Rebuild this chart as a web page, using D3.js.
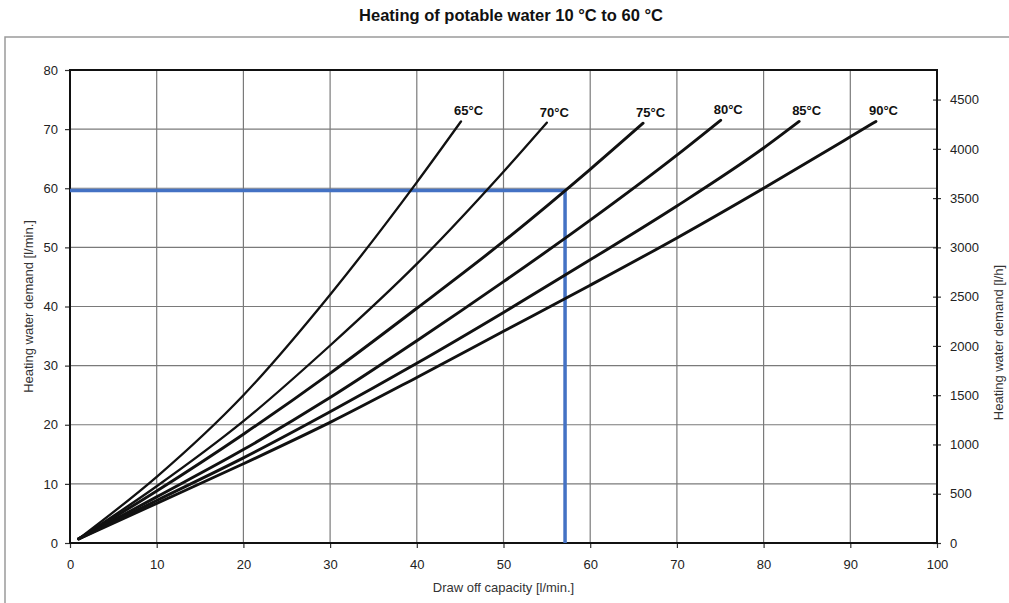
<!DOCTYPE html>
<html>
<head>
<meta charset="utf-8">
<script src="https://cdn.jsdelivr.net/npm/d3@7"></script>
<style>
	body { margin: 0; background: #fff; }
	text { font-family: "Liberation Sans", Arial, sans-serif; }
</style>
</head>
<body>
<script>
// values, [draw off l/min, demand l/min]
const temps = ["65°C", "70°C", "75°C", "80°C", "85°C", "90°C"];
const curve65 = [[1, 0.7], [10, 11.2], [20, 25], [30, 42], [40, 61], [45.1, 71.3]];
const curve70 = [[1, 0.7], [10, 9.6], [20, 20.6], [30, 33.4], [40, 47.2], [50, 62.8], [55, 71.1]];
const curve75 = [[1, 0.7], [10, 8.8], [20, 18.4], [30, 28.7], [40, 39.7], [50, 51], [60, 63.2], [66.1, 71]];
const curve80 = [[1, 0.7], [10, 7.8], [20, 15.8], [30, 24.6], [40, 34.2], [50, 44.2], [60, 54.6], [70, 65.6], [75.05, 71.5]];
const curve85 = [[1, 0.7], [10, 7.2], [20, 14.4], [30, 22.2], [40, 30.4], [50, 39], [60, 47.9], [70, 57], [80, 66.8], [84.1, 71.3]];
const curve90 = [[1, 0.7], [10, 6.7], [20, 13.4], [30, 20.4], [40, 28], [50, 35.8], [60, 43.6], [70, 51.6], [80, 60], [90, 68.7], [92.96, 71.3]];
const curves = [curve65, curve70, curve75, curve80, curve85, curve90];

const xTicks = [0, 10, 20, 30, 40, 50, 60, 70, 80, 90, 100];
const yTicks = [0, 10, 20, 30, 40, 50, 60, 70, 80];
const yRightTicks = [0, 500, 1000, 1500, 2000, 2500, 3000, 3500, 4000, 4500];

// example reading (blue)
const markerDraw = 57.1;
const markerDemand = 59.6;

const width = 1009, height = 603;
const svg = d3.select("body").append("svg")
	.attr("width", width)
	.attr("height", height);

const x = d3.scaleLinear().domain([0, 100]).range([70, 937]);
const y = d3.scaleLinear().domain([0, 80]).range([543, 70]);
const yRight = d3.scaleLinear().domain([0, 4800]).range([543, 70]);

// outer frame
svg.append("rect")
	.attr("x", 5).attr("y", 37)
	.attr("width", 1010).attr("height", 580)
	.attr("fill", "none")
	.attr("stroke", "#9a9a9a")
	.attr("stroke-width", 1.5);

svg.append("text")
	.attr("x", 511).attr("y", 21)
	.attr("text-anchor", "middle")
	.attr("font-size", "16.5px")
	.attr("font-weight", "bold")
	.attr("fill", "#111")
	.text("Heating of potable water 10 °C to 60 °C");

// grid
const grid = svg.append("g").attr("stroke", "#7a7a7a").attr("stroke-width", 1.2);
grid.selectAll("line.v")
	.data(xTicks.slice(1, -1))
	.enter().append("line")
	.attr("x1", d => x(d)).attr("x2", d => x(d))
	.attr("y1", y(0)).attr("y2", y(80));
grid.selectAll("line.h")
	.data(yTicks.slice(1, -1))
	.enter().append("line")
	.attr("x1", x(0)).attr("x2", x(100))
	.attr("y1", d => y(d)).attr("y2", d => y(d));

// axes
const styleAxis = g => {
	g.select(".domain").remove();
	g.selectAll(".tick line").attr("stroke", "#333").attr("stroke-width", 1.2);
	g.selectAll(".tick text").attr("fill", "#222").attr("font-size", "13px")
		.attr("font-family", "Liberation Sans, Arial, sans-serif");
};

svg.append("g")
	.attr("transform", `translate(${x(0)},0)`)
	.call(d3.axisLeft(y).tickValues(yTicks).tickSize(5).tickPadding(7))
	.call(styleAxis);

svg.append("g")
	.attr("transform", `translate(0,${y(0)})`)
	.call(d3.axisBottom(x).tickValues(xTicks).tickSize(5).tickPadding(12))
	.call(styleAxis);

svg.append("g")
	.attr("transform", `translate(${x(100)},0)`)
	.call(d3.axisRight(yRight).tickValues(yRightTicks).tickFormat(d3.format("d")).tickSize(4).tickPadding(9))
	.call(styleAxis)
	.call(g => g.selectAll(".tick line").attr("x1", -4));

// plot border
svg.append("rect")
	.attr("x", x(0)).attr("y", y(80))
	.attr("width", x(100) - x(0)).attr("height", y(0) - y(80))
	.attr("fill", "none")
	.attr("stroke", "#111")
	.attr("stroke-width", 2);

// blue reading
svg.append("path")
	.attr("d", `M${x(0)},${y(markerDemand)}H${x(markerDraw)}V${y(0)}`)
	.attr("fill", "none")
	.attr("stroke", "#4472c4")
	.attr("stroke-width", 3.5);

// curves
const line = d3.line()
	.x(d => x(d[0]))
	.y(d => y(d[1]))
	.curve(d3.curveMonotoneX);

svg.append("g").selectAll("path")
	.data(curves)
	.enter().append("path")
	.attr("d", line)
	.attr("fill", "none")
	.attr("stroke", "#111")
	.attr("stroke-linecap", "round")
	.attr("stroke-width", (d, i) => i < 2 ? 2.3 : 2.9);

svg.append("g").selectAll("text")
	.data(curves)
	.enter().append("text")
	.attr("x", d => x(d[d.length - 1][0]) - 7)
	.attr("y", d => y(d[d.length - 1][1]) - 6)
	.attr("font-size", "13px")
	.attr("font-weight", "bold")
	.attr("fill", "#111")
	.text((d, i) => temps[i]);

// axis titles
svg.append("text")
	.attr("transform", `translate(33,${(y(0) + y(80)) / 2}) rotate(-90)`)
	.attr("text-anchor", "middle")
	.attr("font-size", "13px")
	.attr("fill", "#333")
	.text("Heating water demand [l/min.]");

svg.append("text")
	.attr("transform", `translate(1003,${(y(0) + y(80)) / 2 + 36}) rotate(-90)`)
	.attr("text-anchor", "middle")
	.attr("font-size", "13px")
	.attr("fill", "#333")
	.text("Heating water demand [l/h]");

svg.append("text")
	.attr("x", (x(0) + x(100)) / 2)
	.attr("y", 592)
	.attr("text-anchor", "middle")
	.attr("font-size", "13px")
	.attr("fill", "#333")
	.text("Draw off capacity [l/min.]");
</script>
</body>
</html>
